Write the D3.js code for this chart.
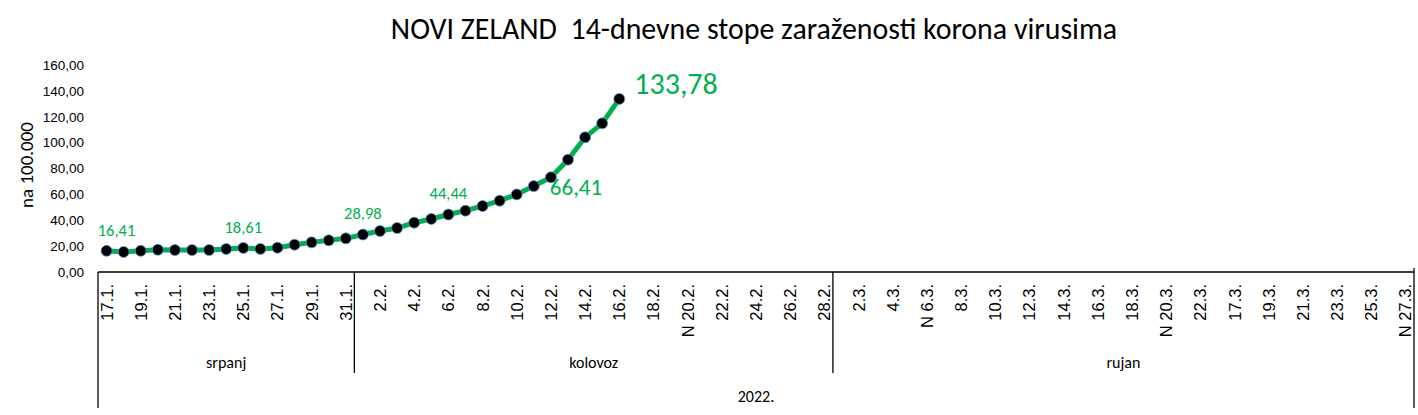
<!DOCTYPE html>
<html>
<head>
<meta charset="utf-8">
<script src="https://cdn.jsdelivr.net/npm/d3@7"></script>
<style>
  html, body { margin: 0; padding: 0; background: #fff; }
  svg { display: block; font-family: Carlito, Calibri, Lato, "Open Sans", sans-serif; }
  .pre { white-space: pre; }
</style>
</head>
<body>
<svg id="chart" width="1418" height="415"></svg>
<script>
// ---- DATA ----
const titleText = "NOVI ZELAND  14-dnevne stope zaraženosti korona virusima";
const yAxisTitle = "na 100.000";
const yearLabel = "2022.";

const categories = [
  "17.1.","18.1.","19.1.","20.1.","21.1.","22.1.","23.1.","24.1.","25.1.","26.1.","27.1.","28.1.","29.1.","30.1.","31.1.",
  "1.2.","2.2.","3.2.","4.2.","5.2.","6.2.","7.2.","8.2.","9.2.","10.2.","11.2.","12.2.","13.2.","14.2.","15.2.","16.2.","17.2.","18.2.","19.2.","N 20.2.","21.2.","22.2.","23.2.","24.2.","25.2.","26.2.","27.2.","28.2.",
  "1.3.","2.3.","3.3.","4.3.","5.3.","N 6.3.","7.3.","8.3.","9.3.","10.3.","11.3.","12.3.","13.3.","14.3.","15.3.","16.3.","17.3.","18.3.","19.3.","N 20.3.","21.3.","22.3.","16.3.","17.3.","18.3.","19.3.","20.3.","21.3.","22.3.","23.3.","24.3.","25.3.","26.3.","N 27.3."
];

const monthNames = ["srpanj", "kolovoz", "rujan"];
const monthCounts = [15, 28, 34];

const values = [
  16.41, 15.5, 16.4, 17.2, 17.0, 17.0, 17.0, 17.8, 18.61, 17.8, 18.8, 21.1, 22.9, 24.5, 26.0,
  28.98, 31.7, 34.0, 38.1, 41.0, 44.44, 47.4, 51.0, 55.1, 60.0, 66.41, 73.2, 86.8, 104.1, 114.9, 133.78
];

const yTicks = [0, 20, 40, 60, 80, 100, 120, 140, 160];

// labelled points (indices into values)
const labelIdx = [0, 8, 15, 20, 25, 30];

// ---- CHART ----
const svg = d3.select("#chart");
const green = "#00B050";
const left = 98, right = 1414, yZero = 272, yTop = 65;

const x = d3.scaleBand().domain(d3.range(categories.length)).range([left, right]).padding(0);
const y = d3.scaleLinear().domain([0, 160]).range([yZero, yTop]);
const fmt = v => v.toFixed(2).replace(".", ",");

// title
svg.append("text")
  .attr("class", "pre")
  .attr("x", 754).attr("y", 39)
  .attr("text-anchor", "middle")
  .attr("font-size", 29.9)
  .attr("fill", "#000")
  .text(titleText);

// y axis title
svg.append("text")
  .attr("transform", "translate(33,165) rotate(-90)")
  .attr("text-anchor", "middle")
  .attr("font-size", 19)
  .attr("fill", "#000")
  .text(yAxisTitle);

// y axis (labels only)
const yAxis = d3.axisLeft(y).tickValues(yTicks).tickFormat(fmt).tickSize(0).tickPadding(0);
const gy = svg.append("g").attr("transform", "translate(84,0)").call(yAxis);
gy.select(".domain").remove();
gy.selectAll("text").attr("font-size", 13.5).attr("fill", "#000").attr("font-family", null);

// x axis: categorical tick labels every other category
const xAxis = d3.axisBottom(x)
  .tickValues(d3.range(0, categories.length, 2))
  .tickFormat(i => categories[i])
  .tickSize(0).tickPadding(0);
const gx = svg.append("g").attr("transform", `translate(0,${yZero})`).call(xAxis);
gx.select(".domain").remove();
gx.selectAll("text")
  .attr("font-size", 16.5).attr("fill", "#000").attr("font-family", null)
  .attr("text-anchor", "end")
  .attr("dy", null)
  .attr("transform", "translate(6,12) rotate(-90)");

// axis line
svg.append("line").attr("x1", left).attr("x2", right).attr("y1", yZero).attr("y2", yZero)
  .attr("stroke", "#000").attr("stroke-width", 1.3);

// month groups
let start = 0;
const cumStarts = monthCounts.map(c => { const s = start; start += c; return s; });
svg.append("line").attr("x1", left).attr("x2", left).attr("y1", yZero).attr("y2", 408).attr("stroke", "#000").attr("stroke-width", 1.3);
svg.append("line").attr("x1", right).attr("x2", right).attr("y1", yZero - 4).attr("y2", 408).attr("stroke", "#000").attr("stroke-width", 1.3);
cumStarts.slice(1).forEach(s => {
  const xs = x(s);
  svg.append("line").attr("x1", xs).attr("x2", xs).attr("y1", yZero).attr("y2", 373).attr("stroke", "#000").attr("stroke-width", 1.3);
});
monthNames.forEach((m, k) => {
  const x0 = x(cumStarts[k]);
  const x1 = x(cumStarts[k] + monthCounts[k] - 1) + x.bandwidth();
  svg.append("text").attr("x", (x0 + x1) / 2).attr("y", 368)
    .attr("text-anchor", "middle").attr("font-size", 16).attr("fill", "#000").text(m);
});
svg.append("text").attr("x", (left + right) / 2).attr("y", 402)
  .attr("text-anchor", "middle").attr("font-size", 16).attr("fill", "#000").text(yearLabel);

// line
const cx = i => x(i) + x.bandwidth() / 2;
const line = d3.line().x((d, i) => cx(i)).y(d => y(d));
svg.append("path").datum(values)
  .attr("d", line).attr("fill", "none")
  .attr("stroke", green).attr("stroke-width", 5).attr("stroke-linejoin", "round");

// markers
svg.append("g").selectAll("circle").data(values).join("circle")
  .attr("cx", (d, i) => cx(i)).attr("cy", d => y(d)).attr("r", 5.5)
  .attr("fill", "#000").attr("stroke", "#5B9BD5").attr("stroke-width", 0.8);

// data labels
labelIdx.forEach(i => {
  const px = cx(i), py = y(values[i]);
  const t = svg.append("text").attr("fill", green).text(fmt(values[i]));
  if (i === 30) {
    t.attr("x", px + 15).attr("y", py - 15).attr("dy", "0.35em").attr("font-size", 30);
  } else if (i === 25) {
    t.attr("x", px + 16).attr("y", py + 1).attr("dy", "0.35em").attr("font-size", 23);
  } else {
    t.attr("x", i === 0 ? px + 10 : px).attr("y", py - 21).attr("dy", "0.35em")
      .attr("text-anchor", "middle").attr("font-size", 16.5);
  }
});
</script>
</body>
</html>
